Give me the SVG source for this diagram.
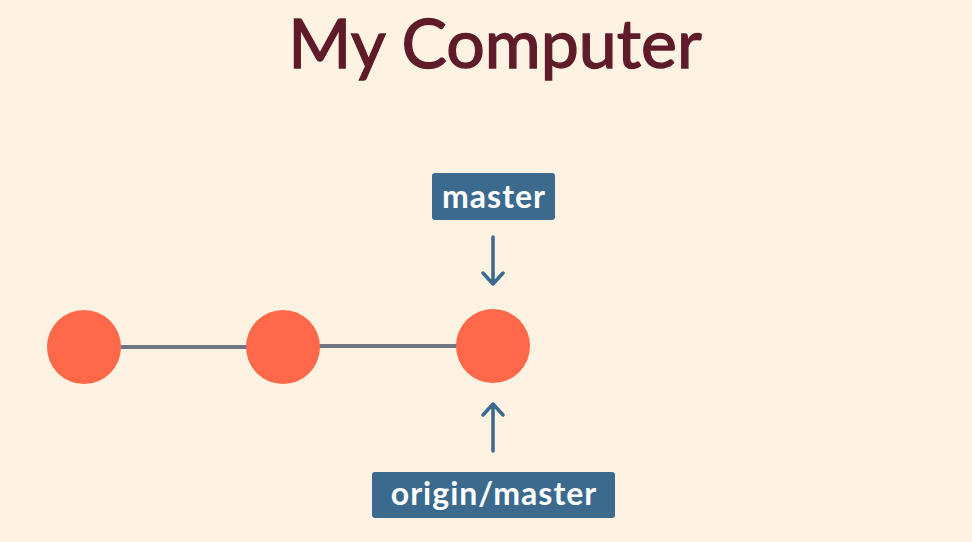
<svg xmlns="http://www.w3.org/2000/svg" width="972" height="542" viewBox="0 0 972 542">
<style>
.bg{fill:#fef3e2}
.commit{fill:#ff6849}
.edge{stroke:#717683;stroke-width:4;fill:none}
.label{fill:#3c6a8e}
.ltext{font-family:"Lato","Open Sans",sans-serif;font-weight:bold;font-size:32px;letter-spacing:1px;fill:#ffffff;text-anchor:middle}
.arrow{stroke:#3c6a8e;stroke-width:3.5;fill:none;stroke-linecap:round;stroke-linejoin:round}
.title{font-family:"Lato","Open Sans",sans-serif;font-size:68px;fill:#5f1b29;stroke:#5f1b29;stroke-width:1.4;text-anchor:middle}
</style>
<rect class="bg" x="0" y="0" width="972" height="542"/>
<text class="title" x="495" y="68">My Computer</text>
<g id="connectors">
<line class="edge" x1="84" y1="347" x2="283" y2="347"/>
<line class="edge" x1="283" y1="346" x2="493" y2="346"/>
<path class="arrow" d="M493 237 L493 284 M483 273 L493 284 L503 273"/>
<path class="arrow" d="M493 451 L493 404 M483 415 L493 404 L503 415"/>
</g>
<g id="commit1"><circle class="commit" cx="84" cy="347" r="37"/></g>
<g id="commit2"><circle class="commit" cx="283" cy="347" r="37"/></g>
<g id="commit3"><circle class="commit" cx="493" cy="346" r="37"/></g>
<g id="master">
<rect class="label" x="432" y="173" width="123" height="47" rx="3"/>
<text class="ltext" x="494" y="208">master</text>
</g>
<g id="origin-master">
<rect class="label" x="372" y="472" width="243" height="46" rx="3"/>
<text class="ltext" x="494" y="505">origin/master</text>
</g>
</svg>
